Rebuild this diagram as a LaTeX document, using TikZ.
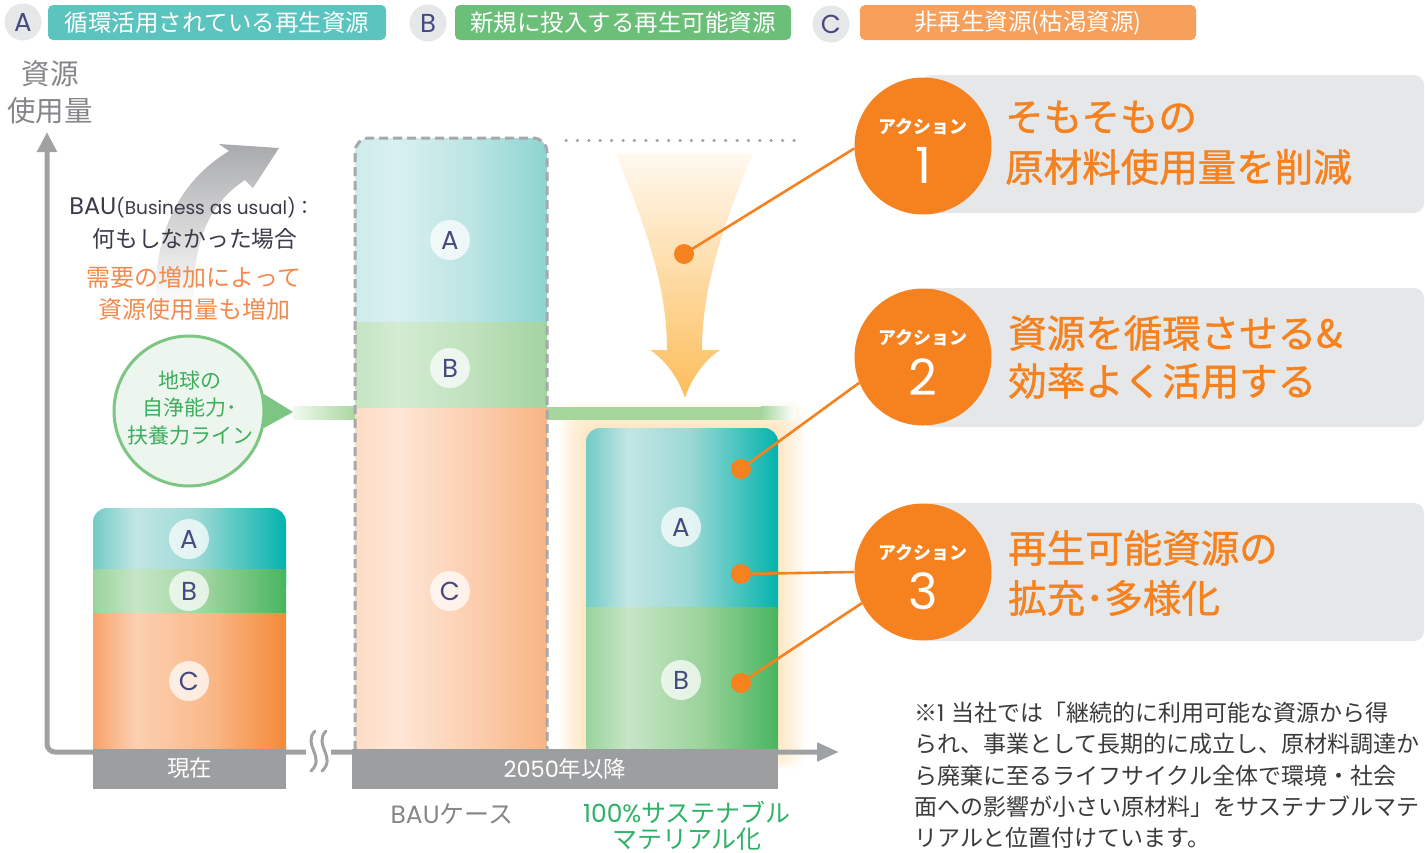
\documentclass[tikz,border=0pt]{standalone}
\usepackage{fontspec}
\setmainfont{Noto Sans CJK JP}
\newfontfamily\lat{Poppins}
\newfontfamily\medfont[FakeBold=1.1]{Noto Sans CJK JP}
\usetikzlibrary{arrows.meta}
\newcommand\fsz[1]{\fontsize{#1}{#1}\selectfont}
\definecolor{tealL}{HTML}{5CC4BE}
\definecolor{greenL}{HTML}{6CBF78}
\definecolor{orangeL}{HTML}{F6A05C}
\definecolor{circG}{HTML}{E6E7E9}
\definecolor{navy}{HTML}{474A80}
\definecolor{axisG}{HTML}{A0A1A3}
\definecolor{labG}{HTML}{9D9EA0}
\definecolor{actO}{HTML}{F5821F}
\definecolor{boxG}{HTML}{E6E7E8}
\definecolor{axT}{HTML}{85868A}
\definecolor{bubG}{HTML}{7CC583}
\definecolor{bubF}{HTML}{EDF6EE}
\definecolor{bubT}{HTML}{3DAE5C}
\definecolor{lineG}{HTML}{A6D69C}
\definecolor{susG}{HTML}{2DB266}
\definecolor{noteT}{HTML}{3A3A3A}
\definecolor{bauO}{HTML}{F28A4E}
\definecolor{darkT}{HTML}{3A3A48}
\definecolor{dashG}{HTML}{A7A8AA}
\definecolor{glowC}{HTML}{FBD392}
\definecolor{funT}{HTML}{FFF9F0}
\definecolor{funB}{HTML}{FDBD5A}
\definecolor{arrG}{HTML}{A9AAAC}
% bar gradients
\definecolor{tA0}{HTML}{72CBC7}\definecolor{tA1}{HTML}{C2E6E4}\definecolor{tA2}{HTML}{9CD9D5}\definecolor{tA3}{HTML}{04B3AD}
\definecolor{gB0}{HTML}{9BD39C}\definecolor{gB1}{HTML}{C6E6C6}\definecolor{gB2}{HTML}{9CD39C}\definecolor{gB3}{HTML}{48B55F}
\definecolor{oC0}{HTML}{F7A36A}\definecolor{oC1}{HTML}{FCD0B1}\definecolor{oC2}{HTML}{F9B98A}\definecolor{oC3}{HTML}{F5893A}
\definecolor{lA0}{HTML}{CDECEB}\definecolor{lA1}{HTML}{D8F0EF}\definecolor{lA2}{HTML}{BCE5E3}\definecolor{lA3}{HTML}{8ED4D0}
\definecolor{lB0}{HTML}{C4E4C3}\definecolor{lB1}{HTML}{D3ECD2}\definecolor{lB2}{HTML}{C0E2BE}\definecolor{lB3}{HTML}{A2D4A0}
\definecolor{lC0}{HTML}{FDDCC6}\definecolor{lC1}{HTML}{FEE6D6}\definecolor{lC2}{HTML}{FCCFB0}\definecolor{lC3}{HTML}{F8B584}
\pgfdeclarehorizontalshading{shA}{100bp}{color(0bp)=(tA0); color(25bp)=(tA0); color(36bp)=(tA1); color(52bp)=(tA2); color(75bp)=(tA3); color(100bp)=(tA3)}
\pgfdeclarehorizontalshading{shB}{100bp}{color(0bp)=(gB0); color(25bp)=(gB0); color(36bp)=(gB1); color(55bp)=(gB2); color(75bp)=(gB3); color(100bp)=(gB3)}
\pgfdeclarehorizontalshading{shC}{100bp}{color(0bp)=(oC0); color(25bp)=(oC0); color(36bp)=(oC1); color(55bp)=(oC2); color(75bp)=(oC3); color(100bp)=(oC3)}
\pgfdeclarehorizontalshading{shLA}{100bp}{color(0bp)=(lA0); color(25bp)=(lA0); color(36bp)=(lA1); color(55bp)=(lA2); color(75bp)=(lA3); color(100bp)=(lA3)}
\pgfdeclarehorizontalshading{shLB}{100bp}{color(0bp)=(lB0); color(25bp)=(lB0); color(36bp)=(lB1); color(55bp)=(lB2); color(75bp)=(lB3); color(100bp)=(lB3)}
\pgfdeclarehorizontalshading{shLC}{100bp}{color(0bp)=(lC0); color(25bp)=(lC0); color(36bp)=(lC1); color(55bp)=(lC2); color(75bp)=(lC3); color(100bp)=(lC3)}
\begin{document}
\begin{tikzpicture}[x=1pt,y=-1pt,
  legcirc/.style={circle, fill=circG, minimum size=37pt, inner sep=0pt, text=navy, font=\lat\fsz{26}},
  legbox/.style={rounded corners=5pt, minimum height=35pt, inner sep=0pt, text=white, font=\fsz{23.5}},
  barletter/.style={circle, fill=white, fill opacity=0.72, text opacity=1, minimum size=40pt, inner sep=0pt, text=navy, font=\lat\fsz{26}},
  labbox/.style={fill=labG, text=white, font=\fsz{22.5}, inner sep=0pt, minimum height=40pt},
  actcirc/.style={circle, fill=actO, minimum size=137pt, inner sep=0pt},
  actbox/.style={fill=boxG, rounded corners=10pt, inner sep=0pt},
  actlab/.style={text=white, font=\bfseries\fsz{18}, inner sep=0pt},
  actnum/.style={text=white, font=\lat\fsz{50}, inner sep=0pt},
  acttxt/.style={text=actO, font=\medfont\fsz{38.5}, anchor=west, inner sep=0pt},
  dotnode/.style={circle, fill=actO, minimum size=20pt, inner sep=0pt},
  conn/.style={draw=actO, line width=2.6pt},
  axisline/.style={draw=axisG, line width=5pt},
  notetxt/.style={text=noteT, font=\fsz{23}, anchor=west, inner sep=0pt}
]
\useasboundingbox (0,0) rectangle (1425,852);
\begin{scope}
\clip (0,0) rectangle (1425,852);

% ---------- legend ----------
\node[legcirc] (lcA) at (23,22) {A};
\node[legbox, fill=tealL, minimum width=338pt] (legA) at (217,22.5) {循環活用されている再生資源};
\node[legcirc] (lcB) at (428,23) {B};
\node[legbox, fill=greenL, minimum width=336pt] (legB) at (623,22.5) {新規に投入する再生可能資源};
\node[legcirc] (lcC) at (831,24) {C};
\node[legbox, fill=orangeL, minimum width=336pt] (legC) at (1028,22.5) {非再生資源(枯渇資源)};

% ---------- axis label ----------
\node[align=center, text=axT, font=\fontsize{28.5}{37}\selectfont, inner sep=0pt] (ylab) at (50,92) {資源\\使用量};

% ---------- gray curved arrow ----------
\shade[top color=arrG, bottom color=white]
  (156,305) .. controls (153,235) and (178,182) .. (229,151)
  -- (219,144) -- (279,148) -- (253,188) -- (245,180)
  .. controls (207,205) and (192,245) .. (194,305) -- cycle;

% ---------- BAU text ----------
\node[inner sep=0pt, text=darkT] (bau1) at (192,208) {{\lat\fsz{24}BAU}{\lat\fsz{18.5}(Business as usual)}{\fsz{19}：}};
\node[inner sep=0pt, text=darkT, font=\fsz{22.7}] (bau2) at (195,239) {何もしなかった場合};
\node[inner sep=0pt, text=bauO, font=\fsz{24}] (bau3) at (194,277) {需要の増加によって};
\node[inner sep=0pt, text=bauO, font=\fsz{24}] (bau4) at (194,309) {資源使用量も増加};

% ---------- glow behind bar 3 ----------
\foreach \i in {1,...,14}{
  \fill[glowC, fill opacity=0.05, rounded corners=14pt] ({586-1.9*\i},{428-1.9*\i}) rectangle ({778+1.9*\i},{750+1.4*\i});
}

% ---------- green line ----------
\shade[left color=lineG!15, right color=lineG] (293,406.5) rectangle (357,419.5);
\fill[lineG] (356,406.5) rectangle (762,419.5);
\shade[left color=lineG, right color=white] (761,406.5) rectangle (795,419.5);

% ---------- bubble ----------
\node[circle, draw=bubG, line width=3pt, fill=bubF, minimum size=150pt, inner sep=0pt] (bub) at (189,411) {};
\coordinate (tip) at (293,412);
\fill[bubG] (bub.13) -- (tip) -- (bub.-13) -- cycle;
\node[align=center, text=bubT, font=\fontsize{21}{27.5}\selectfont, inner sep=0pt] (bubtxt) at (190,408) {地球の\\自浄能力･\\扶養力ライン};

% ---------- dotted line and funnel arrow ----------
\draw[axisG, line width=3.5pt, line cap=round, dash pattern=on 0pt off 11.4pt] (566,140.5) -- (802,140.5);
\shade[top color=funT, bottom color=funB]
  (615,153) .. controls (648,230) and (667,290) .. (667,350)
  -- (650,350) .. controls (668,362) and (680,382) .. (685,398)
  .. controls (690,382) and (702,362) .. (720,350)
  -- (702,350) .. controls (702,290) and (721,230) .. (753,153) -- cycle;

% ---------- axes ----------
\draw[axisline, {Triangle[width=19pt,length=20pt]}-{Triangle[width=18pt,length=22pt]}, rounded corners=8pt] (47,132) -- (47,752) -- (839,752);
\fill[white] (306,744) rectangle (331,761);
\draw[axisG, line width=3pt, line cap=round] (315,731) .. controls (302,745) and (326,757) .. (311,771);
\draw[axisG, line width=3pt, line cap=round] (326,731) .. controls (313,745) and (337,757) .. (322,771);

% ---------- bar 1 ----------
\shade[shading=shA, rounded corners=14pt] (93,508) rectangle (286,600);
\shade[shading=shB] (93,569) rectangle (286,613);
\shade[shading=shC] (93,613) rectangle (286,750);
\node[barletter] (b1A) at (189,539) {A};
\node[barletter] (b1B) at (189,591) {B};
\node[barletter] (b1C) at (189,681) {C};

% ---------- bar 2 (BAU) ----------
\shade[shading=shLA, rounded corners=14pt] (355,138) rectangle (547,340);
\shade[shading=shLB] (355,322) rectangle (547,408);
\shade[shading=shLC] (355,408) rectangle (547,750);
\draw[dashG, line width=3pt, dash pattern=on 9pt off 5pt, rounded corners=14pt] (355,750) -- (355,138) -- (547,138) -- (547,750);
\node[barletter] (b2A) at (450,240) {A};
\node[barletter] (b2B) at (450,368) {B};
\node[barletter] (b2C) at (450,591) {C};

% ---------- bar 3 ----------
\shade[shading=shA, rounded corners=14pt] (586,428) rectangle (778,625);
\shade[shading=shB] (586,607) rectangle (778,750);
\node[barletter] (b3A) at (681,527) {A};
\node[barletter] (b3B) at (681,680) {B};

% ---------- axis labels ----------
\node[labbox, minimum width=193pt] (now) at (189.5,768.5) {現在};
\node[labbox, minimum width=426pt] (future) at (565,768.5) {{\lat 2050}年以降};
\node[inner sep=0pt, text=axT, font=\fsz{25}] (baucase) at (452,814) {{\lat BAU}ケース};
\node[inner sep=0pt, text=susG, align=center, font=\fontsize{25}{26}\selectfont] (sus) at (687,826) {{\lat 100\%}サステナブル\\マテリアル化};

% ---------- action boxes ----------
\node[actbox, minimum width=502pt, minimum height=138pt] (box1) at (1173,144) {};
\node[actbox, minimum width=502pt, minimum height=139pt] (box2) at (1173,357.5) {};
\node[actbox, minimum width=502pt, minimum height=138pt] (box3) at (1173,572) {};

\node[actcirc] (act1) at (923,146) {};
\node[actcirc] (act2) at (923,357) {};
\node[actcirc] (act3) at (923,572) {};
\node[actlab] (al1) at (923,127) {アクション};
\node[actnum] (an1) at (923,165) {1};
\node[actlab] (al2) at (923,338) {アクション};
\node[actnum] (an2) at (923,377) {2};
\node[actlab] (al3) at (923,553) {アクション};
\node[actnum] (an3) at (923,591) {3};

\node[acttxt] (t1a) at (1005,117) {そもそもの};
\node[acttxt] (t1b) at (1005,167) {原材料使用量を削減};
\node[acttxt] (t2a) at (1008,333) {資源を循環させる\&};
\node[acttxt] (t2b) at (1008,381) {効率よく活用する};
\node[acttxt] (t3a) at (1008,548) {再生可能資源の};
\node[acttxt] (t3b) at (1008,598) {拡充･多様化};

% ---------- connectors ----------
\node[dotnode] (d1) at (684,254) {};
\node[dotnode] (d2) at (741,469) {};
\node[dotnode] (d3) at (741,574) {};
\node[dotnode] (d4) at (741,683) {};
\draw[conn] (d1.center) -- (act1.182);
\draw[conn] (d2.center) -- (act2.202);
\draw[conn] (d3.center) -- (act3.180);
\draw[conn] (d4.center) -- (act3.207);

% ---------- footnote ----------
\node[notetxt] (n1) at (914,713) {※{\lat 1}\hspace{7pt}当社では「継続的に利用可能な資源から得};
\node[notetxt] (n2) at (914,744) {られ、事業として長期的に成立し、原材料調達か};
\node[notetxt] (n3) at (914,776) {ら廃棄に至るライフサイクル全体で環境・社会};
\node[notetxt] (n4) at (914,807) {面への影響が小さい原材料」をサステナブルマテ};
\node[notetxt] (n5) at (914,838) {リアルと位置付けています。};
\end{scope}
\end{tikzpicture}
\end{document}
